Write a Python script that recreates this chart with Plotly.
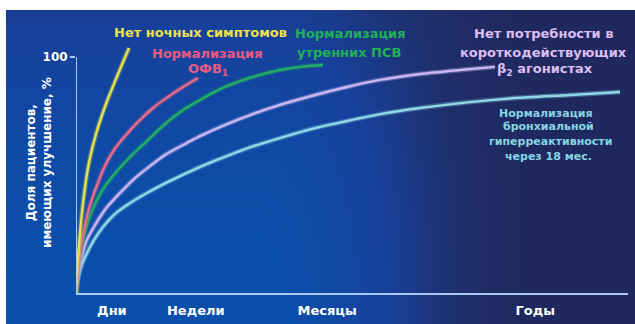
import numpy as np
import plotly.graph_objects as go

W, H = 635, 324

# Time axis (relative units, 0-100) and share of patients with improvement, %
night_x = [0, 0.18, 0.54, 0.91, 1.45, 2.17, 3.08, 4.17, 5.43, 6.88, 8.15, 9.6]
night_y = [0, 9.7, 20.3, 30.1, 41.5, 53.0, 62.7, 71.6, 80.1, 88.6, 95.8, 103.8]

fev_x = [0, 0.36, 0.91, 1.63, 2.54, 3.62, 5.07, 6.88, 8.88, 11.23, 13.95,
         16.67, 19.38, 22.1]
fev_y = [0, 10.6, 20.3, 28.8, 37.3, 44.5, 53.0, 60.6, 66.5, 72.5, 78.4,
         83.1, 87.3, 91.1]

pef_x = [0, 0.36, 1.09, 2.17, 3.62, 5.43, 7.61, 10.14, 12.86, 16.12, 19.38,
         22.46, 26.09, 29.71, 33.33, 36.96, 40.58, 44.75]
pef_y = [0, 10.6, 20.3, 30.1, 38.6, 45.8, 52.1, 58.5, 64.4, 71.6, 77.5,
         81.8, 86.4, 89.8, 92.4, 94.5, 95.8, 96.6]

beta_x = [0, 0.36, 0.91, 1.81, 3.44, 5.62, 7.97, 10.69, 13.41, 16.12, 20.11,
          22.46, 27.36, 31.52, 35.69, 43.3, 49.09, 55.07, 62.32, 69.57, 75.91]
beta_y = [0, 7.6, 14.0, 21.6, 28.8, 36.4, 42.4, 48.7, 53.8, 58.5, 63.6,
          66.5, 71.6, 75.4, 78.8, 83.9, 87.3, 90.3, 92.8, 94.5, 95.8]

hyper_x = [0, 0.36, 0.91, 1.99, 3.26, 4.89, 7.07, 9.78, 12.86, 17.03, 21.2,
           25.54, 30.62, 35.69, 43.3, 49.09, 55.07, 62.32, 71.38, 79.53,
           89.49, 98.55]
hyper_y = [0, 5.5, 11.0, 16.9, 22.5, 28.0, 33.5, 38.1, 42.4, 47.5, 52.1,
           56.4, 61.0, 64.8, 69.9, 72.9, 75.8, 78.4, 80.9, 82.6, 83.9, 85.2]

period_pos = [6.5, 21.7, 45.5, 83.2]
period_labels = ["Дни", "Недели", "Месяцы", "Годы"]

y_tick_vals = [100]
y_tick_text = ["100"]

AXIS_COLOR = "#a9c9f2"
FONT = "DejaVu Sans"


def px(x):
    return x / W


def py(y):
    return 1 - y / H


fig = go.Figure()

# Background panel: bright blue lower-left fading into navy on the right/top
gx = np.linspace(0, 1, 120)
gy = np.linspace(0, 1, 60)
GX, GY = np.meshgrid(gx, gy)
t = np.clip((GX - 0.40) / 0.45, 0, 1)
wh = t * t * (3 - 2 * t)
wv = 0.5 * GY ** 2
zbg = 1 - (1 - wh) * (1 - wv)
fig.add_trace(go.Heatmap(
    x=gx, y=gy, z=zbg, xaxis="x", yaxis="y", zsmooth="best",
    showscale=False, hoverinfo="skip", zmin=0, zmax=1,
    colorscale=[[0, "#0a4fab"], [0.45, "#17409a"], [0.8, "#1f2f6c"], [1, "#1f2960"]],
))

curves = [
    (hyper_x, hyper_y, "#8fd9e6"),
    (beta_x, beta_y, "#cbb6f2"),
    (pef_x, pef_y, "#22ad62"),
    (fev_x, fev_y, "#ea6a8a"),
    (night_x, night_y, "#e6e24a"),
]
for cx, cy, col in curves:
    fig.add_trace(go.Scatter(
        x=cx, y=cy, mode="lines", xaxis="x2", yaxis="y2",
        line=dict(color=col, width=5, shape="spline", smoothing=0.8),
        opacity=0.3, hoverinfo="skip", showlegend=False,
    ))
    fig.add_trace(go.Scatter(
        x=cx, y=cy, mode="lines", xaxis="x2", yaxis="y2",
        line=dict(color=col, width=2.4, shape="spline", smoothing=0.8),
        hoverinfo="skip", showlegend=False,
    ))

# Vertical axis line up to 100 %
fig.add_shape(type="line", xref="x2", yref="y2", x0=0, x1=0, y0=0, y1=100,
              line=dict(color=AXIS_COLOR, width=2))

ann = []


def label(text, x, y, color, size=13):
    ann.append(dict(text=text, x=px(x), y=py(y), xref="paper", yref="paper",
                    showarrow=False, xanchor="center", yanchor="middle",
                    font=dict(family=FONT, size=size, color=color, weight="bold")))


label("Нет ночных симптомов", 200, 32, "#eee24c")
label("Нормализация", 207, 53, "#ea5a80")
label("ОФВ<sub>1</sub>", 208, 70, "#ea5a80")
label("Нормализация", 351, 33, "#20b058")
label("утренних ПСВ", 349, 52, "#20b058")
label("Нет потребности в", 543, 33, "#dcbef2")
label("короткодействующих", 543, 52, "#dcbef2")
label("β<sub>2</sub> агонистах", 545, 70, "#dcbef2")
label("Нормализация", 546, 113, "#86d6e2", 11)
label("бронхиальной", 548, 127, "#86d6e2", 11)
label("гиперреактивности", 550, 142, "#86d6e2", 11)
label("через 18 мес.", 548, 157, "#86d6e2", 11)

ann.append(dict(text="Доля пациентов,<br>имеющих улучшение, %", textangle=-90,
                x=px(39), y=py(163), xref="paper", yref="paper", showarrow=False,
                xanchor="center", yanchor="middle",
                font=dict(family=FONT, size=12, color="white", weight="bold")))

x0_px, x1_px, y0_px = 76, 628, 293
y_top = 108
y_top_px = y0_px - y_top * 2.36

fig.update_layout(
    width=W, height=H,
    margin=dict(l=0, r=0, t=0, b=0),
    paper_bgcolor="white", plot_bgcolor="rgba(0,0,0,0)",
    showlegend=False,
    annotations=ann,
    xaxis=dict(domain=[px(6), 1], range=[0, 1], visible=False, fixedrange=True),
    yaxis=dict(domain=[0, py(10)], range=[0, 1], visible=False, fixedrange=True),
    xaxis2=dict(domain=[px(x0_px), px(x1_px)], range=[0, 100], anchor="y2",
                showgrid=False, zeroline=False, showline=True,
                linecolor=AXIS_COLOR, linewidth=2,
                tickvals=period_pos, ticktext=period_labels, ticks="",
                ticklabelstandoff=4,
                tickfont=dict(family=FONT, size=13, color="white", weight="bold")),
    yaxis2=dict(domain=[py(y0_px), py(y_top_px)], range=[0, y_top], anchor="x2",
                showgrid=False, zeroline=False, showline=False,
                tickvals=y_tick_vals, ticktext=y_tick_text, ticks="outside",
                ticklen=5, tickwidth=2, tickcolor=AXIS_COLOR,
                tickfont=dict(family=FONT, size=12, color="white", weight="bold")),
)

fig.write_html("out.html")
